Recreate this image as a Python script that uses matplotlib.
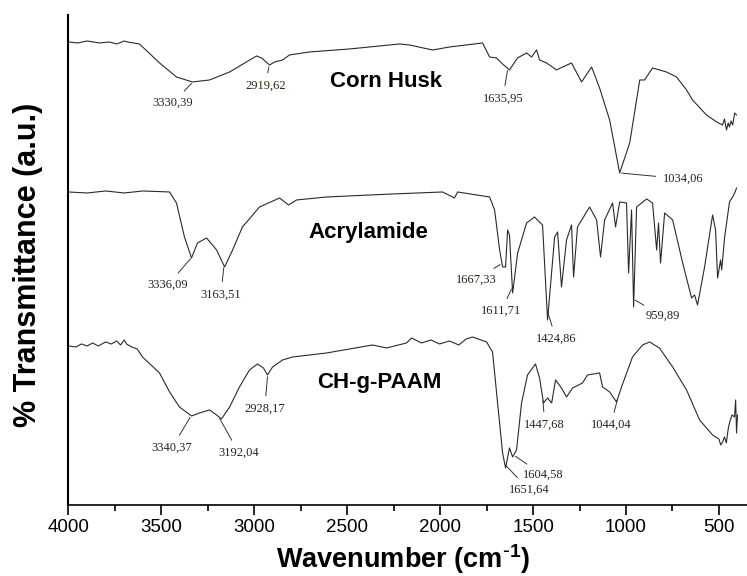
import matplotlib
matplotlib.use("Agg")
import matplotlib.pyplot as plt
import numpy as np
from matplotlib.ticker import MultipleLocator

# FTIR spectra, transmittance in arbitrary units (stacked)
corn_wn = [4000, 3950, 3900, 3833, 3780, 3740, 3700, 3682, 3618, 3510, 3419, 3333, 3241, 3133,
           2988, 2961, 2918, 2891, 2848, 2811, 2703, 2488, 2219, 2165, 2041, 1949, 1772, 1734,
           1697, 1664, 1627, 1584, 1535, 1508, 1481, 1465, 1427, 1374, 1341, 1293, 1239, 1185,
           1142, 1088, 1034, 980, 926, 900, 857, 782, 728, 674, 642, 567, 512, 480, 470, 459,
           450, 443, 435, 426, 415, 405]
corn_t = [463, 462, 464, 462, 463, 461, 464, 463, 461, 442, 428, 423, 425, 433,
          449, 447, 440, 443, 445, 450, 453, 456, 461, 460, 455, 458, 462, 448,
          447, 441, 435, 447, 452, 448, 455, 445, 442, 435, 438, 442, 423, 438,
          417, 385, 332, 362, 425, 425, 437, 433, 428, 415, 405, 390, 383, 380, 386, 375,
          382, 378, 384, 380, 392, 390]

acryl_wn = [4000, 3900, 3800, 3700, 3600, 3456, 3419, 3376, 3338, 3306, 3257, 3203, 3160, 3117,
            3064, 2972, 2864, 2816, 2773, 2611, 2256, 1987, 1923, 1906, 1734, 1707, 1680, 1664,
            1648, 1637, 1627, 1610, 1583, 1535, 1492, 1449, 1422, 1384, 1368, 1347, 1320, 1293,
            1282, 1261, 1196, 1158, 1137, 1115, 1072, 1056, 1034, 997, 986, 970, 959, 943, 889,
            857, 835, 825, 814, 792, 749, 695, 647, 631, 615, 577, 534, 518, 507, 491, 485, 469,
            443, 426, 415, 405]
acryl_t = [313, 312, 314, 312, 314, 313, 302, 268, 247, 262, 267, 255, 238, 255,
           278, 298, 307, 300, 305, 308, 311, 313, 307, 313, 308, 295, 255, 238,
           238, 275, 270, 212, 252, 282, 288, 280, 185, 268, 273, 218, 265, 280,
           228, 278, 298, 285, 248, 285, 302, 278, 303, 302, 232, 295, 198, 298, 306,
           302, 255, 282, 242, 292, 285, 242, 207, 210, 200, 238, 290, 275, 227, 245, 235, 268,
           303, 308, 312, 317]

chg_wn = [4000, 3960, 3930, 3900, 3870, 3840, 3800, 3770, 3740, 3720, 3700, 3688, 3660, 3630,
          3602, 3510, 3456, 3403, 3338, 3295, 3241, 3203, 3177, 3133, 3080, 3026, 2983, 2951,
          2929, 2902, 2848, 2794, 2611, 2364, 2289, 2181, 2154, 2100, 2050, 2003, 1950, 1900,
          1860, 1826, 1750, 1718, 1691, 1664, 1648, 1627, 1610, 1589, 1562, 1530, 1487, 1465,
          1444, 1422, 1400, 1379, 1347, 1320, 1287, 1234, 1207, 1142, 1126, 1088, 1051, 1024,
          965, 911, 873, 820, 749, 674, 604, 534, 500, 490, 480, 470, 460, 450, 443, 430, 416,
          410, 405, 400]
chg_t = [159, 158, 161, 159, 162, 159, 163, 161, 164, 160, 165, 161, 158, 156,
         148, 132, 113, 98, 89, 92, 95, 90, 86, 98, 118, 135, 141, 137,
         130, 138, 145, 148, 152, 160, 157, 162, 167, 162, 165, 161, 164, 160,
         166, 168, 163, 153, 102, 52, 37, 57, 48, 55, 102, 130, 141, 127,
         102, 107, 102, 125, 117, 108, 117, 122, 130, 132, 118, 113, 103, 118,
         148, 160, 163, 157, 138, 115, 85, 70, 66, 60, 63, 68, 62, 76, 82, 90, 88,
         105, 72, 90]

corn_peaks = ["3330,39", "2919,62", "1635,95", "1034,06"]
acryl_peaks = ["3336,09", "3163,51", "1667,33", "1611,71", "1424,86", "959,89"]
chg_peaks = ["3340,37", "3192,04", "2928,17", "1651,64", "1604,58", "1447,68", "1044,04"]

# label offsets from the peak, in pixels (dx, dy)
corn_offs = [(-20, -21), (-4, -21), (-5, -30), (43, -6)]
acryl_offs = [(-24, -28), (-3, -29), (-26, -16), (-11, -24), (9, -29), (29, -17)]
chg_offs = [(-19, -32), (20, -36), (-3, -34), (24, -25), (30, -20), (2, -26), (-7, -27)]

plt.rcParams["font.family"] = ["Liberation Sans", "DejaVu Sans"]
plt.rcParams["axes.unicode_minus"] = False

fig = plt.figure(figsize=(7.47, 5.76), dpi=100)
ax = fig.add_axes([0.0917, 0.1233, 0.908, 0.8507])

line_color = "#2a2a2a"
for wn, t in [(corn_wn, corn_t), (acryl_wn, acryl_t), (chg_wn, chg_t)]:
    ax.plot(wn, t, color=line_color, lw=0.8)

def mark_peaks(wn, t, labels, offs):
    x = np.array(wn[::-1], dtype=float)
    y = np.array(t[::-1], dtype=float)
    for lab, (dx, dy) in zip(labels, offs):
        p = float(lab.replace(",", "."))
        ax.annotate(lab, xy=(p, np.interp(p, x, y)), xytext=(dx, dy),
                    textcoords="offset pixels", ha="left" if dx > 35 else "center",
                    va="center", fontsize=9, family="Liberation Serif", color="#2b2118",
                    arrowprops=dict(arrowstyle="-", lw=0.7, color="#333333",
                                    shrinkA=3, shrinkB=1.5))

mark_peaks(corn_wn, corn_t, corn_peaks, corn_offs)
mark_peaks(acryl_wn, acryl_t, acryl_peaks, acryl_offs)
mark_peaks(chg_wn, chg_t, chg_peaks, chg_offs)

ax.text(2289, 423, "Corn Husk", fontsize=16, fontweight="bold", ha="center", va="center")
ax.text(2385, 272, "Acrylamide", fontsize=16, fontweight="bold", ha="center", va="center")
ax.text(2326, 122, "CH-g-PAAM", fontsize=16, fontweight="bold", ha="center", va="center")

ax.set_xlim(4000, 350)
ax.set_ylim(0, 490)
ax.xaxis.set_major_locator(MultipleLocator(500))
ax.xaxis.set_minor_locator(MultipleLocator(250))
ax.tick_params(axis="x", which="major", direction="out", length=7, width=1.2,
               labelsize=13.5, pad=3)
ax.tick_params(axis="x", which="minor", direction="out", length=4, width=1.2)
ax.set_yticks([])
for side in ["top", "right"]:
    ax.spines[side].set_visible(False)
ax.spines["left"].set_linewidth(1.5)
ax.spines["bottom"].set_linewidth(1.2)

fig.text(403 / 747, 1 - 568 / 576, "Wavenumber (cm$^{\\mathregular{\\text{-}1}}$)",
         fontsize=19.5, fontweight="bold", ha="center", va="baseline")
fig.text(28 / 747, 1 - 265 / 576, "% Transmittance (a.u.)", fontsize=22, fontweight="bold",
         rotation=90, ha="center", va="center")

fig.savefig("out.png", dpi=100)
